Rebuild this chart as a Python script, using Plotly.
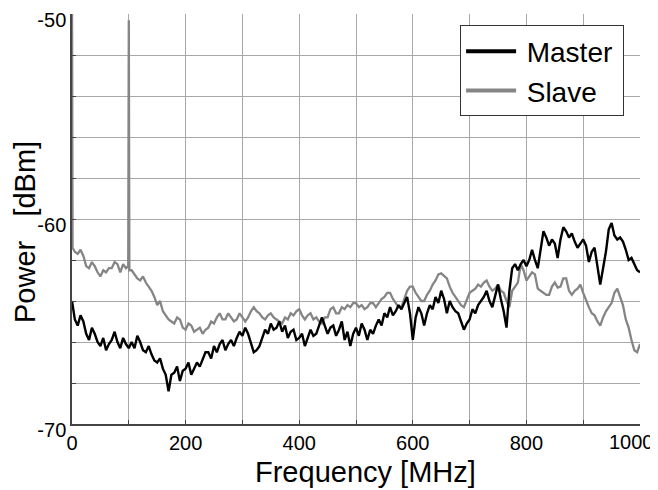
import plotly.graph_objects as go

# Frequency grid [MHz] (5 MHz sampling)
freq = list(range(0, 1001, 5))

# Master power [dBm]
master_power = [
    -64.0, -64.9, -65.2, -64.7, -65.0, -65.6, -65.9, -65.3, -65.6, -66.0,
    -66.2, -65.8, -66.4, -66.1, -65.9, -65.5, -66.0, -66.3, -65.8, -66.1,
    -66.3, -66.0, -66.3, -65.7, -66.0, -66.4, -66.5, -66.2, -66.6, -66.9,
    -67.0, -66.8, -67.3, -67.6, -68.4, -67.6, -67.5, -67.2, -67.9, -67.4,
    -67.3, -67.0, -67.6, -67.3, -67.0, -67.2, -66.8, -66.5, -66.5, -66.8,
    -66.2, -66.5, -66.1, -65.9, -66.4, -66.1, -65.9, -66.2, -65.8, -65.5,
    -65.7, -65.3, -65.6, -66.0, -66.5, -66.4, -66.2, -65.8, -65.4, -65.6,
    -65.1, -65.4, -65.3, -65.0, -65.5, -65.2, -65.8, -65.5, -65.4, -65.9,
    -65.8, -65.6, -66.2, -65.8, -65.4, -65.7, -65.6, -65.2, -64.8, -65.2,
    -65.6, -65.3, -65.2, -65.7, -65.4, -65.0, -65.9, -65.5, -66.2, -65.6,
    -65.3, -65.7, -65.1, -65.4, -65.9, -65.4, -65.6, -65.2, -64.9, -65.2,
    -64.6, -64.8, -64.3, -64.7, -64.5, -64.2, -64.4, -64.1, -63.8, -64.6,
    -65.9, -64.8, -64.3, -64.6, -65.2, -64.6, -64.2, -64.4, -63.8, -64.1,
    -63.5, -63.9, -64.6, -64.0, -64.3, -64.5, -64.6, -65.0, -65.4, -65.1,
    -64.9, -64.4, -64.6, -64.2, -64.0, -63.8, -63.5, -64.0, -64.3, -63.8,
    -63.2, -63.9, -64.5, -65.3, -63.5, -62.4, -62.2, -62.5, -62.2, -62.0,
    -62.3, -62.0, -61.5, -62.0, -62.4, -61.5, -60.6, -60.9, -61.3, -61.0,
    -61.2, -61.9, -61.0, -60.4, -60.6, -60.9, -60.7, -61.1, -61.4, -61.2,
    -61.0, -61.3, -62.1, -61.6, -61.4, -62.3, -63.2, -62.4, -61.6, -60.5,
    -60.2, -60.8, -61.0, -60.9, -61.1, -61.5, -62.0, -61.9, -62.2, -62.5,
    -62.6,
]

# Slave power [dBm]
slave_power = [
    -49.0, -61.6, -61.7, -61.5, -61.8, -62.3, -62.4, -62.1, -62.3, -62.6,
    -62.8, -62.5, -62.6, -62.4, -62.4, -62.1, -62.2, -62.6, -62.2, -62.4,
    -50.3, -62.5, -62.7, -62.9, -63.0, -62.8, -63.1, -63.3, -63.5, -63.8,
    -64.2, -64.0, -64.5, -64.7, -64.9, -65.0, -65.1, -64.8, -64.9, -65.3,
    -65.4, -65.1, -65.2, -65.5, -65.4, -65.3, -65.6, -65.4, -65.3, -65.0,
    -65.1, -64.8, -64.6, -64.9, -64.9, -64.6, -64.8, -65.0, -64.9, -64.6,
    -64.8, -65.0, -64.8, -64.5, -64.3, -64.5, -64.6, -64.8, -64.9, -64.7,
    -64.6, -64.8, -64.9, -65.0, -65.1, -64.8, -64.9, -64.6, -64.7, -64.5,
    -64.4, -64.7, -64.9, -64.7, -64.6, -64.9, -64.8, -65.0, -65.1, -64.8,
    -64.8, -64.4, -64.3, -64.6, -64.6, -64.3, -64.4, -64.2, -64.3, -64.1,
    -64.1, -64.3, -64.2, -64.4, -64.3, -64.1, -64.1, -64.3, -64.1, -63.9,
    -63.8, -63.6, -63.6, -63.9, -64.1, -64.3, -64.3, -63.9, -63.5, -63.3,
    -63.3, -63.6, -63.8, -64.0, -64.0, -63.7, -63.5, -63.2, -63.0, -62.7,
    -62.65, -62.8, -62.9, -63.3, -63.6, -63.8, -64.0, -64.2, -64.3, -63.9,
    -63.6, -63.5, -63.4, -63.2, -63.3, -63.1, -63.0, -63.3, -63.5, -63.4,
    -63.2, -63.5, -63.6, -64.0, -64.3, -63.5, -63.3, -63.1, -62.2, -62.5,
    -63.0, -62.8, -62.6, -62.7, -63.4, -63.5, -63.6, -63.7, -63.7, -63.3,
    -63.1, -63.35, -63.3, -62.9, -62.9, -63.5, -63.7, -63.5, -63.4, -63.2,
    -63.6, -64.0, -64.3, -64.6, -64.7, -65.0, -65.2, -64.8, -64.5, -64.3,
    -64.1, -63.6, -63.4, -63.8, -64.2, -64.9, -65.3, -65.9, -66.4, -66.5,
    -66.1,
]

# Extra samples on the flanks of the narrow slave spurs
slave_spur_freq = [1, 99, 101]
slave_spur_power = [-61.4, -62.3, -62.5]

series_names = ["Master", "Slave"]
series_colors = ["#000000", "#858585"]

x_ticks = [0, 200, 400, 600, 800, 1000]
y_ticks = [-70, -60, -50]

# merge spur flank samples into slave series
pairs = sorted(list(zip(freq, slave_power)) + list(zip(slave_spur_freq, slave_spur_power)))
slave_freq = [p[0] for p in pairs]
slave_vals = [p[1] for p in pairs]

FONT = "Liberation Sans, Arial, sans-serif"
TS = "\u2009"

fig = go.Figure()
fig.add_trace(go.Scatter(x=slave_freq, y=slave_vals, mode="lines", name=series_names[1],
                         line=dict(color=series_colors[1], width=2.3), showlegend=False))
fig.add_trace(go.Scatter(x=freq, y=master_power, mode="lines", name=series_names[0],
                         line=dict(color=series_colors[0], width=2.4), showlegend=False))
# legend entries (thicker sample lines)
for name, col in zip(series_names, series_colors):
    fig.add_trace(go.Scatter(x=[None], y=[None], mode="lines", name=TS + name + TS,
                             line=dict(color=col, width=4), showlegend=True))

# the last x label is pulled inwards so it stays inside the picture
x_text = [str(v) for v in x_ticks[:-1]] + [""]

grid_col = "#a8a8a8"
fig.update_xaxes(range=[0, 1000], tickvals=x_ticks, ticktext=x_text,
                 automargin=False,
                 showgrid=True, gridcolor=grid_col, gridwidth=1,
                 minor=dict(dtick=100, tick0=0, showgrid=True, gridcolor=grid_col, gridwidth=1,
                            ticks="inside", ticklen=4, tickcolor="#444"),
                 ticks="inside", ticklen=4, tickcolor="#444",
                 showline=True, linecolor="#444", linewidth=1.5, mirror=False,
                 zeroline=False, tickfont=dict(family=FONT, size=20, color="black"))
fig.update_yaxes(range=[-70, -50], tickvals=y_ticks, ticktext=[str(v) for v in y_ticks],
                 automargin=False, ticklabelshift=6,
                 showgrid=True, gridcolor=grid_col, gridwidth=1,
                 minor=dict(dtick=2, tick0=-70, showgrid=True, gridcolor=grid_col, gridwidth=1,
                            ticks="inside", ticklen=4, tickcolor="#444"),
                 ticks="inside", ticklen=4, tickcolor="#444",
                 showline=True, linecolor="#444", linewidth=1.5, mirror=False,
                 zeroline=False, tickfont=dict(family=FONT, size=20, color="black"))

fig.add_annotation(text=str(x_ticks[-1]), xref="x", yref="paper", x=x_ticks[-1], y=0,
                   xanchor="center", yanchor="top", xshift=-9, yshift=-5,
                   showarrow=False, font=dict(family=FONT, size=20, color="black"))

fig.add_annotation(text="Frequency [MHz]", xref="paper", yref="paper",
                   x=0.516, y=0, xanchor="center", yanchor="middle", yshift=-48,
                   showarrow=False, font=dict(family=FONT, size=29, color="black"))

fig.add_annotation(text="Power\u00a0\u00a0\u00a0[dBm]", xref="paper", yref="paper",
                   x=-0.083, y=0.468, xanchor="center", yanchor="middle", textangle=-90,
                   showarrow=False, font=dict(family=FONT, size=29, color="black"))

# page body adds an 8 px offset, so the figure is 8 px smaller than the window
fig.update_layout(
    width=650, height=482,
    margin=dict(l=64, r=18, t=6, b=66, autoexpand=False),
    paper_bgcolor="white", plot_bgcolor="white",
    font=dict(family=FONT, color="black"),
    legend=dict(x=0.972, y=0.972, xanchor="right", yanchor="top",
                bgcolor="white", bordercolor="#333", borderwidth=1,
                font=dict(family=FONT, size=28, color="black"),
                itemwidth=50, tracegroupgap=0),
)

fig.write_html("out.html")
